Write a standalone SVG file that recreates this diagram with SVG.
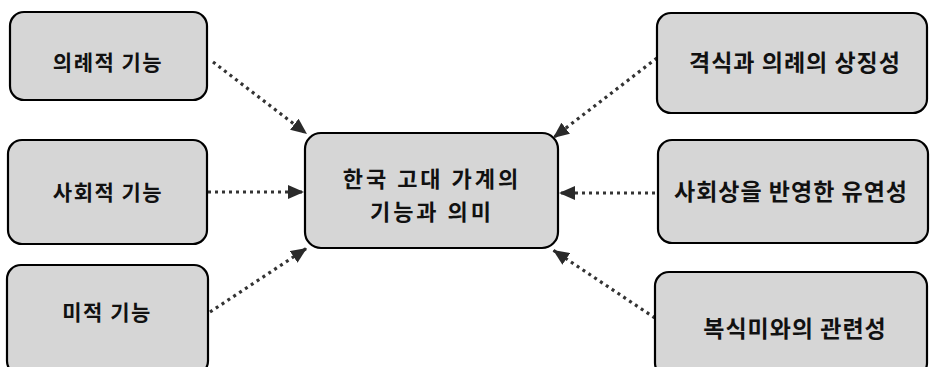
<svg xmlns="http://www.w3.org/2000/svg" width="930" height="367" viewBox="0 0 930 367">
<style>
.box{fill:#d6d6d6;stroke:#000;stroke-width:2.2}
.t{font-family:"Noto Sans CJK KR","Noto Sans",sans-serif;font-weight:bold;font-size:21px;letter-spacing:1.5px;fill:#111;text-anchor:middle;dominant-baseline:central}
.tr{font-size:23px;letter-spacing:1px}
.tc{font-size:22px;letter-spacing:3px}
.c{stroke:#333;stroke-width:3.2;stroke-dasharray:3 4;fill:none}
</style>
<defs>
<marker id="ah" viewBox="0 0 16 14" refX="16" refY="7" markerWidth="16" markerHeight="14" markerUnits="userSpaceOnUse" orient="auto">
<path d="M0,0 L16,7 L0,14 Z" fill="#2a2a2a"/>
</marker>
</defs>
<rect width="930" height="367" fill="#fff"/>
<g id="connectors">
<line class="c" x1="213" y1="62" x2="307" y2="134" marker-end="url(#ah)"/>
<line class="c" x1="208" y1="192" x2="304" y2="192" marker-end="url(#ah)"/>
<line class="c" x1="210" y1="312" x2="307" y2="248" marker-end="url(#ah)"/>
<line class="c" x1="657" y1="58" x2="553" y2="138" marker-end="url(#ah)"/>
<line class="c" x1="655" y1="193" x2="559" y2="193" marker-end="url(#ah)"/>
<line class="c" x1="655" y1="318" x2="553" y2="250" marker-end="url(#ah)"/>
</g>
<g id="n-ritual"><rect class="box" x="10" y="12" width="197" height="88" rx="14"/><text class="t" x="108" y="61">의례적 기능</text></g>
<g id="n-social"><rect class="box" x="8" y="140" width="199" height="104" rx="14"/><text class="t" x="108" y="191">사회적 기능</text></g>
<g id="n-aesthetic"><rect class="box" x="7" y="265" width="201" height="110" rx="14"/><text class="t" x="107" y="311">미적 기능</text></g>
<g id="n-center"><rect class="box" x="305" y="133" width="253" height="115" rx="16"/><text class="t tc" x="432" y="177">한국 고대 가계의</text><text class="t tc" x="432" y="210">기능과 의미</text></g>
<g id="n-formality"><rect class="box" x="657" y="13" width="270" height="100" rx="14"/><text class="t tr" x="795" y="61">격식과 의례의 상징성</text></g>
<g id="n-flexibility"><rect class="box" x="658" y="140" width="270" height="103" rx="14"/><text class="t tr" x="791" y="190">사회상을 반영한 유연성</text></g>
<g id="n-costume"><rect class="box" x="655" y="272" width="272" height="105" rx="14"/><text class="t tr" x="795" y="327">복식미와의 관련성</text></g>
</svg>
